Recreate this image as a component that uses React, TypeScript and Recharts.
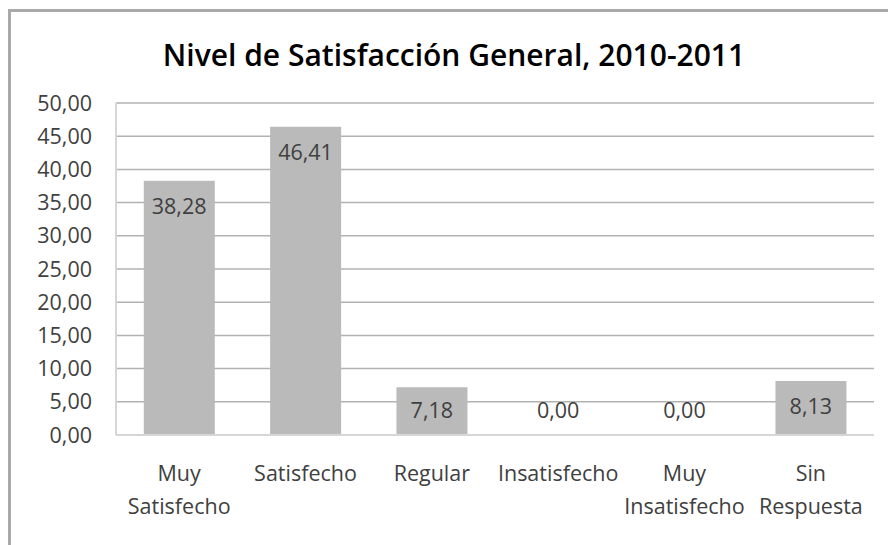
import React from 'react';
import { ComposedChart, Bar, Line, XAxis, YAxis, CartesianGrid } from 'recharts';

const categories = ['Muy Satisfecho', 'Satisfecho', 'Regular', 'Insatisfecho', 'Muy Insatisfecho', 'Sin Respuesta'];
const categoryLines = [['Muy', 'Satisfecho'], ['Satisfecho'], ['Regular'], ['Insatisfecho'], ['Muy', 'Insatisfecho'], ['Sin', 'Respuesta']];
const values = [38.28, 46.41, 7.18, 0.0, 0.0, 8.13];
const yTicks = [0, 5, 10, 15, 20, 25, 30, 35, 40, 45, 50];

const data = categories.map((name, i) => ({ name, value: values[i] }));

const FONT = '"Open Sans", sans-serif';
const TEXT = '#404040';
const SIZE = 21.5;

const CHART_W = 888;
const CHART_H = 545;
const X_AXIS_H = 110;
const BASELINE = CHART_H - X_AXIS_H; // bottom of the plot area

const fmt = (v: number) => Number(v).toFixed(2).replace('.', ',');

function CategoryTick(props: any) {
  const { x, y, index } = props;
  const lines = categoryLines[index] || [];
  return (
    <text x={x} y={y} textAnchor="middle" fill={TEXT} fontFamily={FONT} fontSize={SIZE}>
      {lines.map((l, i) => (
        <tspan key={i} x={x} y={y + 38 + i * 33}>
          {l}
        </tspan>
      ))}
    </text>
  );
}

// label sits just inside the top of the bar, but never lower than near the baseline
// (zero bars still get their "0,00")
function ValueLabel(props: any) {
  const { x, y, value } = props;
  const cy = Math.min(Number(y) + 26, BASELINE - 24);
  return (
    <text x={x} y={cy} dy={7} textAnchor="middle" fill={TEXT} fontFamily={FONT} fontSize={SIZE}>
      {fmt(value ?? 0)}
    </text>
  );
}

export default function App() {
  return (
    <div style={{ position: 'absolute', left: 0, top: 0, width: CHART_W, height: CHART_H, background: '#fff', overflow: 'hidden' }}>
      <div
        style={{
          position: 'absolute',
          left: 8,
          top: 9,
          width: 890,
          height: 545,
          borderLeft: '3px solid #a9a9a9',
          borderTop: '3px solid #a9a9a9',
        }}
      />
      <div
        style={{
          position: 'absolute',
          left: 0,
          top: 34,
          width: 908,
          textAlign: 'center',
          fontFamily: FONT,
          fontWeight: 600,
          fontSize: 30,
          color: '#000',
        }}
      >
        Nivel de Satisfacción General, 2010-2011
      </div>
      <div style={{ position: 'absolute', left: 0, top: 0 }}>
        <ComposedChart width={CHART_W} height={CHART_H} data={data} margin={{ top: 103, right: 14, bottom: 0, left: 0 }} barCategoryGap="22%">
          <CartesianGrid vertical={false} stroke="#b2b2b2" strokeWidth={1.5} />
          <XAxis
            dataKey="name"
            height={X_AXIS_H}
            tickLine={false}
            axisLine={{ stroke: '#d6d6d6', strokeWidth: 2 }}
            tick={<CategoryTick />}
            interval={0}
          />
          <YAxis
            width={116}
            domain={[0, 50]}
            ticks={yTicks}
            tickFormatter={fmt}
            tickLine={false}
            tickMargin={18}
            axisLine={{ stroke: '#d6d6d6', strokeWidth: 2 }}
            tick={{ fill: TEXT, fontFamily: FONT, fontSize: SIZE }}
            interval={0}
          />
          <Bar dataKey="value" fill="#bababa" isAnimationActive={false} />
          <Line
            dataKey="value"
            stroke="none"
            dot={false}
            activeDot={false}
            isAnimationActive={false}
            label={<ValueLabel />}
          />
        </ComposedChart>
      </div>
    </div>
  );
}
